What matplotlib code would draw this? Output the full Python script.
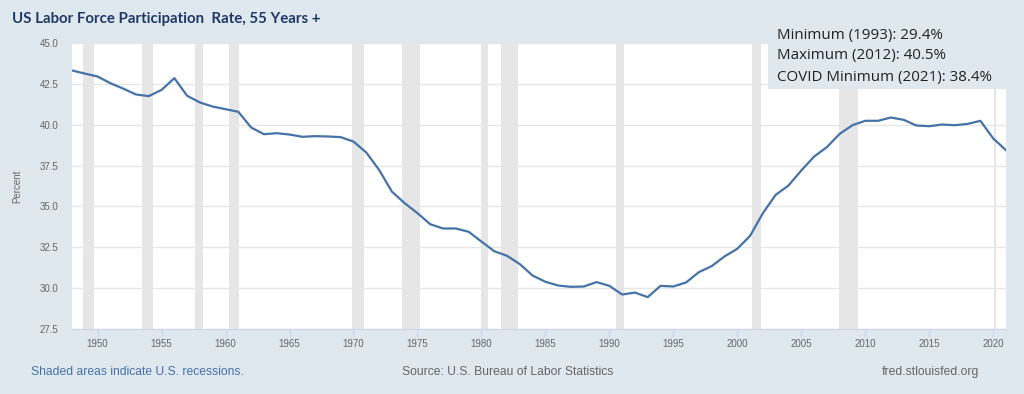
import matplotlib
matplotlib.use("Agg")
import matplotlib.pyplot as plt
from matplotlib.patches import Rectangle

years = list(range(1948, 2022))
rate = [43.32, 43.13, 42.95, 42.54, 42.21, 41.85, 41.75, 42.13, 42.85, 41.77,
        41.36, 41.11, 40.95, 40.79, 39.83, 39.42, 39.48, 39.40, 39.26, 39.30,
        39.28, 39.24, 38.97, 38.30, 37.24, 35.91, 35.20, 34.59, 33.91, 33.65,
        33.65, 33.45, 32.85, 32.26, 31.98, 31.47, 30.77, 30.39, 30.16, 30.08,
        30.10, 30.37, 30.14, 29.61, 29.73, 29.45, 30.14, 30.10, 30.35, 30.98,
        31.35, 31.94, 32.41, 33.20, 34.59, 35.71, 36.28, 37.20, 38.05, 38.63,
        39.44, 39.97, 40.24, 40.24, 40.44, 40.30, 39.95, 39.91, 40.01, 39.97,
        40.05, 40.24, 39.16, 38.44]

rec_start = [1948.83, 1953.5, 1957.58, 1960.25, 1969.92, 1973.83, 1980.0, 1981.5,
             1990.5, 2001.17, 2007.92, 2020.08]
rec_end = [1949.75, 1954.33, 1958.25, 1961.08, 1970.83, 1975.17, 1980.5, 1982.83,
           1991.17, 2001.83, 2009.42, 2020.25]

y_ticks = [27.5, 30.0, 32.5, 35.0, 37.5, 40.0, 42.5, 45.0]
x_ticks = list(range(1950, 2021, 5))

title = "US Labor Force Participation  Rate, 55 Years +"
notes = ["Minimum (1993): 29.4%", "Maximum (2012): 40.5%", "COVID Minimum (2021): 38.4%"]

BG = "#dfe7ef"
fig = plt.figure(figsize=(10.24, 3.94), dpi=100, facecolor=BG)
ax = fig.add_axes([72/1024, 1 - 329/394, (1006-72)/1024, (329-43)/394])
ax.set_facecolor("white")

for s, e in zip(rec_start, rec_end):
    ax.axvspan(s, e, color="#e6e6e6", lw=0, zorder=1)

ax.plot(years, rate, color="#4572a7", lw=1.6, zorder=3)

ax.set_xlim(1948, 2021)
ax.set_ylim(27.5, 45.0)
ax.set_yticks(y_ticks)
ax.set_yticklabels([f"{v:.1f}" for v in y_ticks])
ax.set_xticks(x_ticks)
ax.grid(axis="y", color="#e6e6e6", lw=1, zorder=2)
ax.set_axisbelow(False)
for sp in ["top", "right", "left"]:
    ax.spines[sp].set_visible(False)
ax.spines["bottom"].set_color("#ccd6eb")
ax.tick_params(axis="y", length=0, labelsize=7, labelcolor="#666666", pad=10,
               labelfontfamily="Liberation Sans")
ax.tick_params(axis="x", length=6, color="#ccd6eb", labelsize=7, labelcolor="#666666",
               pad=1.5, labelfontfamily="Liberation Sans")
ax.set_ylabel("Percent", fontsize=7, color="#666666", family="Liberation Sans", labelpad=12)

# annotation box overlaying top-right
fig.patches.append(Rectangle((768/1024, 1 - 89/394), (1024-768)/1024, (89-14)/394,
                             transform=fig.transFigure, facecolor=BG, edgecolor="none", zorder=5))
for i, t in enumerate(notes):
    fig.text(777/1024, 1 - (35 + 21*i)/394, t, fontsize=10.9, family="Open Sans", color="#222222",
             va="center", ha="left", zorder=6)

fig.text(12/1024, 1 - 19/394, title, fontsize=10.85, family="Lato", weight="bold",
         color="#1f3864", va="center", ha="left")

fig.text(31/1024, 1 - 372/394, "Shaded areas indicate U.S. recessions.", fontsize=8.75,
         family="Liberation Sans", color="#4572a7", va="center", ha="left")
fig.text(402/1024, 1 - 372/394, "Source: U.S. Bureau of Labor Statistics", fontsize=8.75,
         family="Liberation Sans", color="#666666", va="center", ha="left")
fig.text(979/1024, 1 - 372/394, "fred.stlouisfed.org", fontsize=8.75,
         family="Liberation Sans", color="#666666", va="center", ha="right")

fig.savefig("out.png", dpi=100, facecolor=BG)
